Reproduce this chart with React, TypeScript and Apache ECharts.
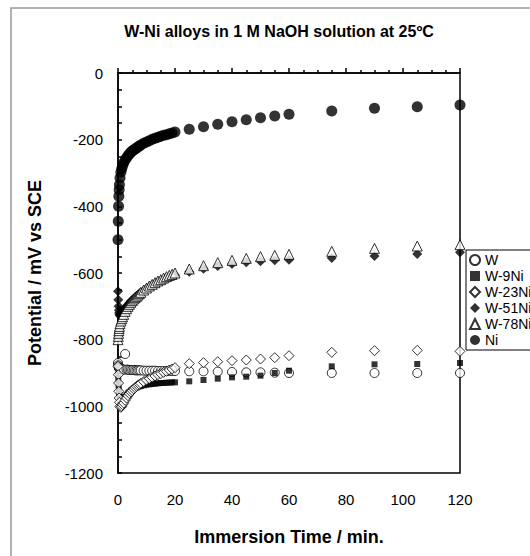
import React, { useEffect, useRef } from "react";
import * as echarts from "echarts";

const titleText = "W-Ni alloys in 1 M NaOH solution at 25ºC";
const xTitle = "Immersion Time / min.";
const yTitle = "Potential / mV vs SCE";

const times = [0, 0.1, 0.2, 0.3, 0.4, 0.5, 0.7, 1, 1.3, 1.6, 2, 2.5, 3, 3.5, 4, 4.5, 5, 5.5, 6, 6.5, 7, 7.5, 8, 9, 10, 11, 12, 13, 14, 15, 16, 17, 18, 19, 20, 25, 30, 35, 40, 45, 50, 55, 60, 75, 90, 105, 120];

const wVals = [-870, -877, -881, -884, -885, -886, -887, -888, -889, -889, -890, -843, -890, -890, -891, -891, -891, -891, -892, -892, -892, -892, -892, -893, -893, -893, -893, -893, -894, -894, -894, -894, -894, -894, -894, -895, -895, -896, -897, -898, -898, -899, -900, -900, -900, -900, -900];
const w9Vals = [-905, -920, -935, -950, -960, -968, -978, -985, -985, -982, -978, -972, -966, -961, -957, -953, -950, -947, -945, -943, -941, -940, -939, -937, -935, -934, -933, -932, -931, -930, -930, -929, -929, -928, -928, -925, -921, -917, -913, -911, -908, -900, -893, -880, -874, -873, -870];
const w23Vals = [-880, -905, -930, -955, -975, -988, -1000, -1003, -1000, -995, -990, -982, -975, -968, -962, -957, -953, -948, -944, -940, -937, -934, -931, -926, -921, -917, -913, -909, -905, -902, -898, -895, -891, -888, -884, -872, -869, -866, -863, -861, -858, -854, -848, -838, -833, -832, -835];
const w51Vals = [-655, -680, -700, -712, -720, -725, -728, -726, -722, -717, -712, -706, -700, -695, -690, -685, -681, -677, -673, -669, -666, -662, -659, -653, -647, -642, -637, -632, -628, -624, -620, -617, -613, -610, -607, -596, -587, -579, -573, -568, -565, -562, -560, -555, -549, -543, -538];
const w78Vals = [-800, -790, -781, -773, -766, -760, -752, -744, -737, -731, -724, -715, -707, -700, -694, -688, -683, -678, -674, -670, -666, -662, -658, -651, -645, -639, -634, -629, -624, -620, -615, -611, -607, -604, -600, -588, -578, -569, -562, -556, -551, -547, -544, -535, -526, -519, -515];
const niVals = [-500, -445, -400, -370, -350, -335, -315, -298, -287, -278, -270, -261, -254, -248, -243, -238, -234, -231, -228, -225, -222, -219, -216, -211, -207, -203, -199, -196, -193, -190, -187, -185, -182, -180, -177, -169, -161, -154, -146, -140, -134, -129, -124, -114, -106, -101, -96];

const seriesNames = ["W", "W-9Ni", "W-23Ni", "W-51Ni", "W-78Ni", "Ni"];
const FONT = 'Arial, "Liberation Sans", sans-serif';

export default function App() {
  const ref = useRef<HTMLDivElement>(null);
  useEffect(() => {
    if (!ref.current) return;
    const chart = echarts.init(ref.current, null, { renderer: "svg" });
    const toData = (vals: number[]) => times.map((t, i) => [t, vals[i]]);
    const open = { color: "#fff", borderColor: "#000", borderWidth: 1 };
    const filled = { color: "#000", borderColor: "#000", borderWidth: 0 };
    const defs = [
      { name: seriesNames[0], vals: wVals, symbol: "circle", size: 9, style: open },
      { name: seriesNames[1], vals: w9Vals, symbol: "rect", size: 6, style: filled },
      { name: seriesNames[2], vals: w23Vals, symbol: "diamond", size: 10, style: open },
      { name: seriesNames[3], vals: w51Vals, symbol: "diamond", size: 10, style: filled },
      { name: seriesNames[4], vals: w78Vals, symbol: "triangle", size: 10, style: open },
      { name: seriesNames[5], vals: niVals, symbol: "circle", size: 11, style: filled },
    ];
    chart.setOption({
      animation: false,
      backgroundColor: "#fff",
      title: {
        text: titleText,
        left: 274,
        top: 18,
        textAlign: "center",
        textStyle: { fontFamily: FONT, fontSize: 16, fontWeight: "bold", color: "#000" },
      },
      graphic: [
        {
          type: "rect",
          shape: { x: 11, y: 8, width: 600, height: 600 },
          style: { fill: "none", stroke: "#999", lineWidth: 1.5 },
          silent: true,
          z: -1,
        },
      ],
      legend: {
        orient: "vertical",
        left: 466,
        top: 250,
        itemWidth: 10,
        itemHeight: 10,
        itemGap: 2,
        padding: [3, 3, 3, 3],
        borderColor: "#000",
        borderWidth: 1,
        backgroundColor: "#fff",
        textStyle: { fontFamily: FONT, fontSize: 14, color: "#000", padding: [0, 0, 0, 0] },
        data: seriesNames,
      },
      grid: {
        left: 118,
        top: 73,
        width: 342,
        height: 400,
        show: true,
        borderColor: "#000",
        borderWidth: 1.5,
        backgroundColor: "transparent",
      },
      xAxis: {
        type: "value",
        min: 0,
        max: 120,
        interval: 20,
        name: xTitle,
        nameLocation: "middle",
        nameGap: 55,
        nameTextStyle: { fontFamily: FONT, fontSize: 18, fontWeight: "bold", color: "#000" },
        axisLine: { show: true, lineStyle: { color: "#000", width: 1.5 } },
        axisTick: { show: true, inside: true, length: 5, lineStyle: { color: "#000", width: 1.5 } },
        minorTick: { show: true, splitNumber: 4, length: 3, lineStyle: { color: "#000", width: 1.5 } },
        axisLabel: { fontFamily: FONT, fontSize: 15, color: "#000", margin: 19, formatter: (v: number) => String(v) },
        splitLine: { show: false },
      },
      yAxis: {
        type: "value",
        min: -1200,
        max: 0,
        interval: 200,
        name: yTitle,
        nameLocation: "middle",
        nameGap: 74,
        nameTextStyle: { fontFamily: FONT, fontSize: 18, fontWeight: "bold", color: "#000" },
        axisLine: { show: true, lineStyle: { color: "#000", width: 1.5 } },
        axisTick: { show: true, inside: true, length: 4, lineStyle: { color: "#000", width: 1.5 } },
        minorTick: { show: true, splitNumber: 4, length: 4, lineStyle: { color: "#000", width: 1.5 } },
        axisLabel: { fontFamily: FONT, fontSize: 15, color: "#000", margin: 15, formatter: (v: number) => String(v) },
        splitLine: { show: false },
      },
      series: defs.map((d) => ({
        name: d.name,
        type: "scatter",
        symbol: d.symbol,
        symbolSize: d.size,
        itemStyle: d.style,
        data: toData(d.vals),
        emphasis: { disabled: true },
      })),
    });
    return () => chart.dispose();
  }, []);
  return (
    <div
      ref={ref}
      style={{ position: "fixed", left: 0, top: 0, width: 530, height: 556, background: "#fff" }}
    />
  );
}
